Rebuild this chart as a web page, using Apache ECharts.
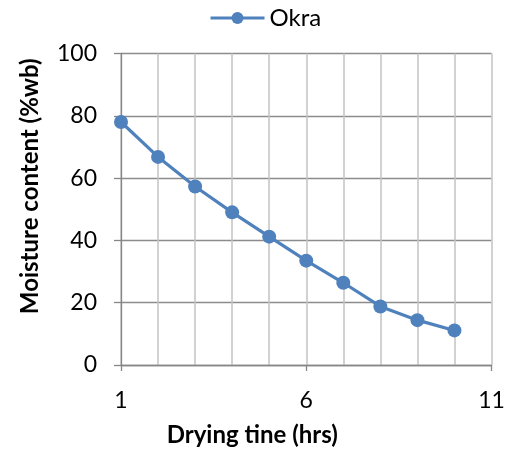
<!DOCTYPE html>
<html>
<head>
<meta charset="utf-8">
<script src="https://cdn.jsdelivr.net/npm/echarts@6/dist/echarts.min.js"></script>
<style>html,body{margin:0;padding:0;background:#fff}#c{width:511px;height:452px}</style>
</head>
<body>
<div id="c"></div>
<script>
const hours = [1, 2, 3, 4, 5, 6, 7, 8, 9, 10];
const okra = [78, 66.8, 57.3, 49, 41.2, 33.5, 26.4, 18.8, 14.4, 11.1];
const xTickLabels = [1, 6, 11];
const yTicks = [0, 20, 40, 60, 80, 100];

const FONT = 'Lato, "Open Sans", sans-serif';
const chart = echarts.init(document.getElementById('c'), null, {renderer: 'canvas'});
chart.setOption({
  animation: false,
  backgroundColor: '#fff',
  textStyle: {fontFamily: FONT},
  legend: {
    top: 1, left: 204,
    itemWidth: 54, itemHeight: 15, itemGap: 4,
    lineStyle: {width: 3},
    textStyle: {fontSize: 24, color: '#000', fontFamily: FONT},
    data: ['Okra']
  },
  grid: {left: 121, right: 19.5, top: 53.5, bottom: 86.3},
  xAxis: [{
    type: 'value', min: 1, max: 11, interval: 1,
    name: 'Drying tine (hrs)', nameLocation: 'middle', nameGap: 58,
    nameTextStyle: {fontSize: 24, fontWeight: 'bold', color: '#000', fontFamily: FONT, padding: [0, 108, 0, 0]},
    axisLine: {show: true, lineStyle: {color: '#868686', width: 1.3}},
    axisTick: {show: true, length: 6, customValues: xTickLabels, lineStyle: {color: '#868686', width: 1.3}},
    axisLabel: {customValues: xTickLabels, margin: 24, fontSize: 23, color: '#000', fontFamily: FONT},
    splitLine: {show: false}
  }, {
    type: 'value', min: 1, max: 11, interval: 1, position: 'bottom',
    axisLine: {show: false}, axisTick: {show: false}, axisLabel: {show: false},
    splitLine: {show: true, lineStyle: {color: '#c3c3c3', width: 1.5}},
    z: 0
  }],
  yAxis: {
    type: 'value', min: yTicks[0], max: yTicks[yTicks.length - 1], interval: 20,
    name: 'Moisture content (%wb)', nameLocation: 'middle', nameGap: 79,
    nameTextStyle: {fontSize: 24, fontWeight: 'bold', color: '#000', fontFamily: FONT, padding: [0, 0, 0, 46]},
    axisLine: {show: true, lineStyle: {color: '#868686', width: 1.3}},
    axisTick: {show: true, length: 7, lineStyle: {color: '#868686', width: 1.3}},
    axisLabel: {margin: 24, fontSize: 23, color: '#000', fontFamily: FONT},
    splitLine: {show: true, lineStyle: {color: '#8c8c8c', width: 1.3}}
  },
  series: [{
    name: 'Okra', type: 'line', xAxisIndex: 0,
    data: hours.map((h, i) => [h, okra[i]]),
    symbol: 'circle', symbolSize: 14,
    lineStyle: {color: '#4f81bd', width: 3.2},
    itemStyle: {color: '#4f81bd'}
  }]
});
</script>
</body>
</html>
